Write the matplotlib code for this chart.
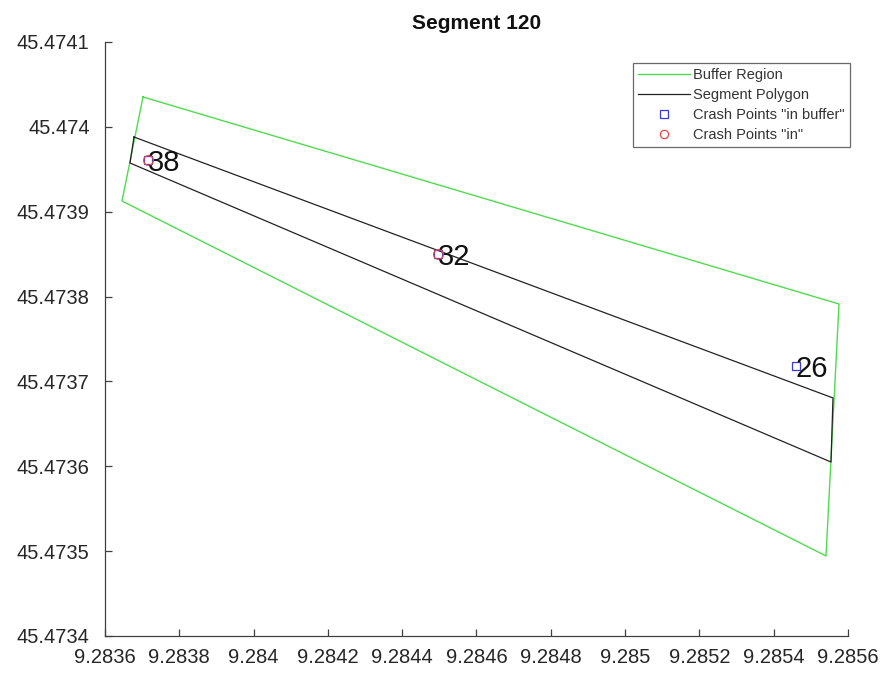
import matplotlib

matplotlib.use("Agg")
import matplotlib.pyplot as plt

plt.rcParams["font.family"] = ["Liberation Sans", "DejaVu Sans"]

# buffer polygon (lon, lat), closed ring
buffer_lon = [9.2837023, 9.2855758, 9.2855408, 9.2836458, 9.2837023]
buffer_lat = [45.4740352, 45.4737912, 45.4734943, 45.4739126, 45.4740352]

# segment polygon (lon, lat), closed ring
segment_lon = [9.2836781, 9.2855596, 9.2855543, 9.2836673, 9.2836781]
segment_lat = [45.4739880, 45.4736805, 45.4736050, 45.4739574, 45.4739880]

# crash points inside the buffer
buffer_ids = ["38", "32", "26"]
buffer_lon_pts = [9.2837157, 9.2844964, 9.2854600]
buffer_lat_pts = [45.4739610, 45.4738502, 45.4737182]

# crash points inside the segment itself
in_lon_pts = [9.2837157, 9.2844964]
in_lat_pts = [45.4739610, 45.4738502]

x_ticks = [9.2836, 9.2838, 9.2840, 9.2842, 9.2844, 9.2846, 9.2848, 9.2850, 9.2852, 9.2854, 9.2856]
x_tick_labels = ["9.2836", "9.2838", "9.284", "9.2842", "9.2844", "9.2846", "9.2848", "9.285", "9.2852", "9.2854", "9.2856"]
y_ticks = [45.4734, 45.4735, 45.4736, 45.4737, 45.4738, 45.4739, 45.4740, 45.4741]
y_tick_labels = ["45.4734", "45.4735", "45.4736", "45.4737", "45.4738", "45.4739", "45.474", "45.4741"]

fig = plt.figure(figsize=(8.86, 6.75), dpi=100)
ax = fig.add_axes([0.1185, 0.0578, 0.8386, 0.88])

ax.plot(buffer_lon, buffer_lat, color="#4fdc4f", linewidth=1.0, label="Buffer Region")
ax.plot(segment_lon, segment_lat, color="#222222", linewidth=0.9, label="Segment Polygon")
ax.plot(buffer_lon_pts, buffer_lat_pts, linestyle="none", marker="s", markersize=6,
        markerfacecolor="none", markeredgecolor="#3a3ad8", markeredgewidth=0.9,
        label='Crash Points "in buffer"')
ax.plot(in_lon_pts, in_lat_pts, linestyle="none", marker="o", markersize=7,
        markerfacecolor="none", markeredgecolor="#ee4444", markeredgewidth=0.9,
        label='Crash Points "in"')

for label, lon, lat in zip(buffer_ids, buffer_lon_pts, buffer_lat_pts):
    ax.annotate(label, (lon, lat), xytext=(0, -2), textcoords="offset points",
                ha="left", va="center", fontsize=21, color="#111111")

ax.set_xlim(x_ticks[0], x_ticks[-1])
ax.set_ylim(y_ticks[0], y_ticks[-1])
ax.set_xticks(x_ticks)
ax.set_xticklabels(x_tick_labels)
ax.set_yticks(y_ticks)
ax.set_yticklabels(y_tick_labels)

for side in ("top", "right"):
    ax.spines[side].set_visible(False)
for side in ("left", "bottom"):
    ax.spines[side].set_color("#404040")
    ax.spines[side].set_linewidth(0.9)
ax.tick_params(direction="in", length=5, width=0.9, color="#404040",
               labelsize=14.5, labelcolor="#262626")
ax.tick_params(axis="x", pad=9)
ax.tick_params(axis="y", pad=11)

ax.set_title("Segment 120", fontsize=15, fontweight="bold", color="#111111", pad=9)

leg = ax.legend(loc="upper right", bbox_to_anchor=(850 / 886, 1 - 63 / 675),
                bbox_transform=fig.transFigure, fontsize=10.5, frameon=True,
                fancybox=False, borderpad=0.35, labelspacing=0.4, markerscale=0.85,
                handlelength=3.6, handletextpad=0.2, borderaxespad=0)
leg.get_frame().set_edgecolor("#444444")
leg.get_frame().set_linewidth(0.9)
for text in leg.get_texts():
    text.set_color("#333333")

fig.savefig("out.png", dpi=100)
